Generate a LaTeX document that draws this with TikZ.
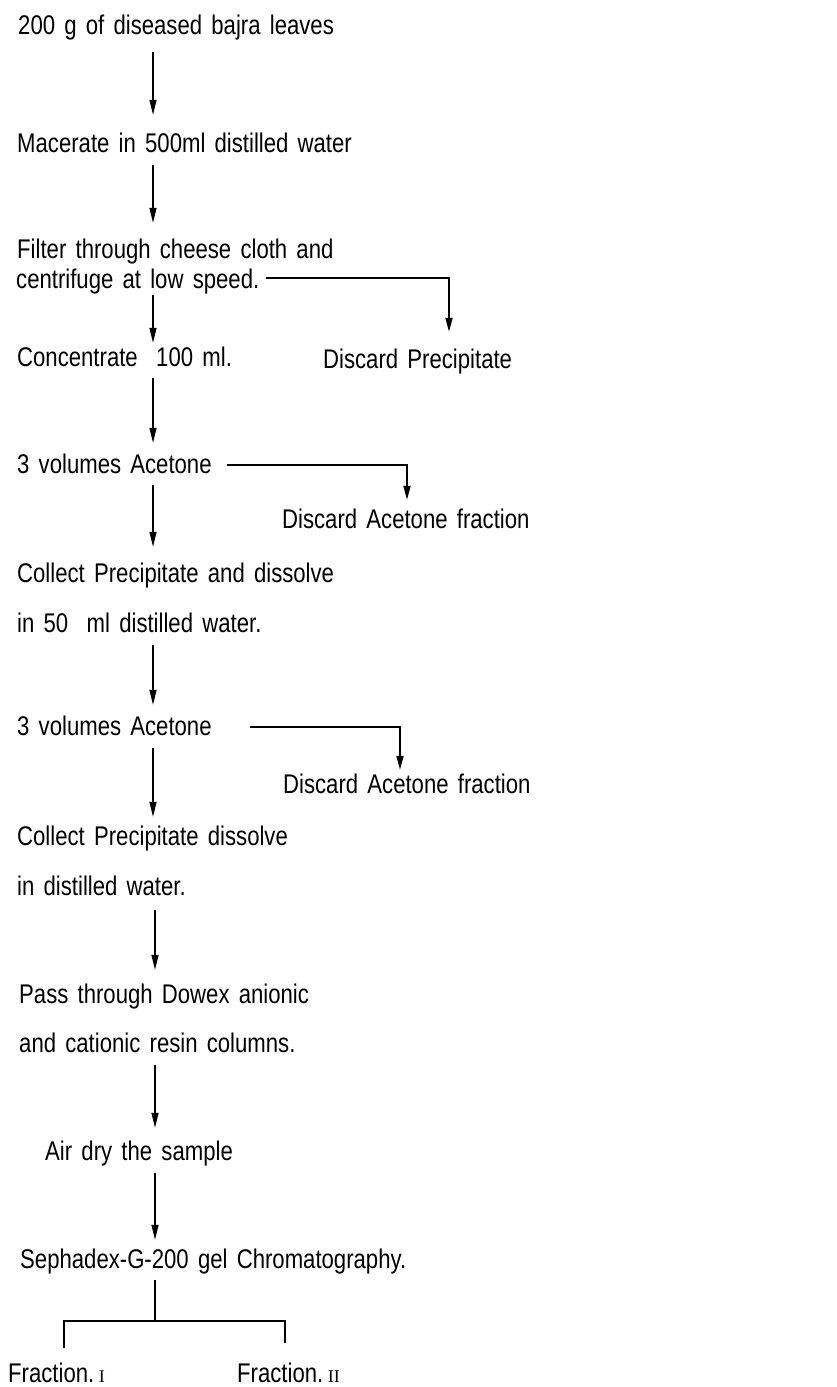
\documentclass[tikz,border=0pt]{standalone}
\usepackage{fontspec}
\setmainfont[FakeStretch=0.82,WordSpace=1.5]{Liberation Sans}
\newfontfamily\numfont{Liberation Serif}
\usetikzlibrary{arrows.meta}
\begin{document}
\begin{tikzpicture}[x=1pt,y=-1pt,
  txt/.style={anchor=base west,inner sep=0pt,text height=18pt,text depth=6pt,
    font=\fontsize{27}{32}\selectfont},
  flow/.style={line width=1.5pt,-{Triangle[width=7pt,length=15pt]}},
  branch/.style={line width=1.8pt,-{Triangle[width=7pt,length=14pt]}},
  plain/.style={line width=1.6pt}]
\useasboundingbox[fill=white] (0,0) rectangle (836,1387);
\coordinate (spine) at (153,0);
\coordinate (spine2) at (155,0);
% main steps
\node[txt] (s1) at (18,34) {200 g of diseased bajra leaves};
\node[txt] (s2) at (17,152) {Macerate in 500ml distilled water};
\node[txt] (s3a) at (17,258) {Filter through cheese cloth and};
\node[txt] (s3b) at (16,288) {centrifuge at low speed.};
\node[txt] (s4) at (17,366) {Concentrate \ 100 ml.};
\node[txt] (d1) at (323,368) {Discard Precipitate};
\node[txt] (s5) at (17,473) {3 volumes Acetone};
\node[txt] (d2) at (282,528) {Discard Acetone fraction};
\node[txt] (s6a) at (17,582) {Collect Precipitate and dissolve};
\node[txt] (s6b) at (17,632) {in 50 \ ml distilled water.};
\node[txt] (s7) at (17,735) {3 volumes Acetone};
\node[txt] (d3) at (283,793) {Discard Acetone fraction};
\node[txt] (s8a) at (17,845) {Collect Precipitate dissolve};
\node[txt] (s8b) at (17,895) {in distilled water.};
\node[txt] (s9a) at (19,1003) {Pass through Dowex anionic};
\node[txt] (s9b) at (19,1052) {and cationic resin columns.};
\node[txt] (s10) at (45,1160) {Air dry the sample};
\node[txt] (s11) at (20,1268) {Sephadex-G-200 gel Chromatography.};
\node[txt] (f1) at (8,1382) {Fraction.\,{\numfont\fontsize{18}{20}\selectfont I}};
\node[txt] (f2) at (237,1382) {Fraction.\,{\numfont\fontsize{18}{20}\selectfont II}};
% main arrows
\draw[flow,shorten <=12pt,shorten >=19pt] (s1.south -| spine) -- (s2.north -| spine);
\draw[flow,shorten <=7pt,shorten >=17pt] (s2.south -| spine) -- (s3a.north -| spine);
\draw[flow,shorten <=1pt,shorten >=5pt] (s3b.south -| spine) -- (s4.north -| spine);
\draw[flow,shorten <=6pt,shorten >=12pt] (s4.south -| spine) -- (s5.north -| spine);
\draw[flow,shorten <=6pt,shorten >=17pt] (s5.south -| spine) -- (s6a.north -| spine);
\draw[flow,shorten <=7pt,shorten >=12pt] (s6b.south -| spine) -- (s7.north -| spine);
\draw[flow,shorten <=7pt,shorten >=10pt] (s7.south -| spine) -- (s8a.north -| spine);
\draw[flow,shorten <=9pt,shorten >=15pt] (s8b.south -| spine2) -- (s9a.north -| spine2);
\draw[flow,shorten <=7pt,shorten >=14pt] (s9b.south -| spine2) -- (s10.north -| spine2);
\draw[flow,shorten <=7pt,shorten >=10pt] (s10.south -| spine2) -- (s11.north -| spine2);
% side branches
\draw[branch] ([shift={(7,-4)}]s3b.east) -| ([shift={(126,-18)}]d1.north west);
\draw[branch] ([shift={(15,-2)}]s5.east) -| ([shift={(125,-10)}]d2.north west);
\draw[branch] ([shift={(38,-2)}]s7.east) -| ([shift={(117,-5)}]d3.north west);
% final split
\coordinate (j) at (155,1321);
\draw[plain,shorten <=6pt] (s11.south -| j) -- (j);
\draw[plain] ([shift={(56,-16)}]f1.north west) |- (j) -| ([shift={(48,-21)}]f2.north west);
\end{tikzpicture}
\end{document}
